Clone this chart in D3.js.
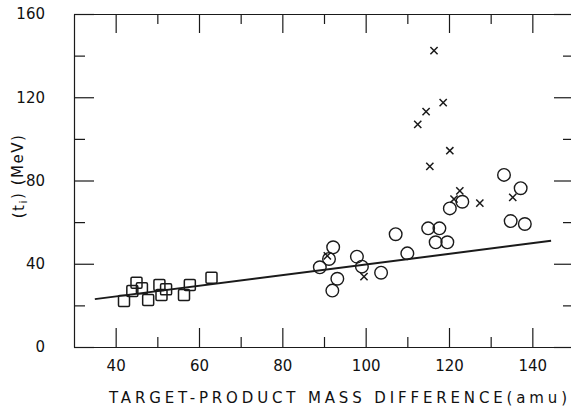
<!DOCTYPE html>
<html><head><meta charset="utf-8">
<script src="https://cdn.jsdelivr.net/npm/d3@7"></script>
<style>
html,body{margin:0;padding:0;background:#fff;}
svg{display:block;}
text{font-family:"DejaVu Sans","Liberation Sans",sans-serif;fill:#111;}
</style></head>
<body>
<svg id="c" width="571" height="416"></svg>
<script>
// ---- data ----
const squareX = [42, 44, 45, 46.3, 47.8, 50.5, 51, 52.1, 56.4, 57.8, 63];
const squareY = [22.1, 26.9, 30.9, 28.2, 22.6, 29.8, 25.0, 27.7, 25.0, 29.8, 33.3];
const circleX = [89.0, 91.2, 92.2, 93.2, 92.0, 97.9, 99.1, 103.7, 107.2, 110.0, 115.0, 117.7, 116.8, 119.6, 120.2, 123.2, 133.2, 137.2, 134.8, 138.2];
const circleY = [38.3, 42.3, 47.9, 32.8, 27.1, 43.4, 38.6, 35.7, 54.2, 45.0, 57.0, 57.0, 50.3, 50.3, 66.6, 69.8, 82.7, 76.3, 60.5, 59.1];
const crossX = [90.8, 99.6, 116.4, 118.6, 114.5, 112.5, 120.2, 115.4, 122.6, 121.2, 127.4, 135.3];
const crossY = [43.8, 33.8, 142.4, 117.4, 113.1, 107.0, 94.3, 86.8, 75.0, 71.1, 69.1, 71.9];
const fitX = [35, 144.5];
const fitY = [23, 51];
const xMajor = [40, 60, 80, 100, 120, 140];
const xMinor = [50, 70, 90, 110, 130];
const yMajor = [0, 40, 80, 120, 160];
const yMinor = [20, 60, 100, 140];
const xTitle = "TARGET-PRODUCT MASS DIFFERENCE(amu)";

// ---- layout ----
const L = 74, R = 574, T = 14, B = 347;
const svg = d3.select("#c");
const x = d3.scaleLinear().domain([30, 150]).range([L, R]);
const y = d3.scaleLinear().domain([0, 160]).range([B, T]);
const ink = "#1a1a1a";

function styleAxis(g){
  g.selectAll("path.domain").attr("stroke", ink).attr("stroke-width", 1.2);
  g.selectAll(".tick line").attr("stroke", ink).attr("stroke-width", 1.2);
  g.selectAll(".tick text").attr("fill", ink).style("font-size", "15px")
    .style("font-family", '"DejaVu Sans","Liberation Sans",sans-serif');
}

// bottom axis
svg.append("g").attr("transform", `translate(0,${B})`)
  .call(d3.axisBottom(x).tickValues(xMajor).tickSizeInner(-19).tickSizeOuter(0).tickPadding(27).tickFormat(d3.format("d")))
  .call(styleAxis).call(g => g.selectAll(".tick text").attr("dy", "-0.2em"));
svg.append("g").attr("transform", `translate(0,${B})`)
  .call(d3.axisBottom(x).tickValues(xMinor).tickSizeInner(-10).tickSizeOuter(0).tickFormat(""))
  .call(styleAxis).call(g => g.select("path.domain").remove());
// top axis
svg.append("g").attr("transform", `translate(0,${T})`)
  .call(d3.axisTop(x).tickValues(xMajor).tickSizeInner(-19).tickSizeOuter(0).tickFormat(""))
  .call(styleAxis);
svg.append("g").attr("transform", `translate(0,${T})`)
  .call(d3.axisTop(x).tickValues(xMinor).tickSizeInner(-10).tickSizeOuter(0).tickFormat(""))
  .call(styleAxis).call(g => g.select("path.domain").remove());
// left axis
svg.append("g").attr("transform", `translate(${L},0)`)
  .call(d3.axisLeft(y).tickValues(yMajor).tickSizeInner(-20).tickSizeOuter(0).tickPadding(29).tickFormat(d3.format("d")))
  .call(styleAxis);
svg.append("g").attr("transform", `translate(${L},0)`)
  .call(d3.axisLeft(y).tickValues(yMinor).tickSizeInner(-11).tickSizeOuter(0).tickFormat(""))
  .call(styleAxis).call(g => g.select("path.domain").remove());
// right axis
svg.append("g").attr("transform", `translate(${R},0)`)
  .call(d3.axisRight(y).tickValues(yMajor).tickSizeInner(-20).tickSizeOuter(0).tickFormat(""))
  .call(styleAxis);
svg.append("g").attr("transform", `translate(${R},0)`)
  .call(d3.axisRight(y).tickValues(yMinor).tickSizeInner(-11).tickSizeOuter(0).tickFormat(""))
  .call(styleAxis).call(g => g.select("path.domain").remove());

// fit line
svg.append("path")
  .datum(fitX.map((d, i) => [d, fitY[i]]))
  .attr("d", d3.line().x(d => x(d[0])).y(d => y(d[1])))
  .attr("fill", "none").attr("stroke", ink).attr("stroke-width", 2);

// squares
const s = 11;
svg.append("g").selectAll("rect")
  .data(squareX.map((d, i) => [d, squareY[i]]))
  .join("rect")
  .attr("x", d => x(d[0]) - s / 2).attr("y", d => y(d[1]) - s / 2)
  .attr("width", s).attr("height", s).attr("rx", 1.2)
  .attr("fill", "none").attr("stroke", ink).attr("stroke-width", 1.5);

// circles
svg.append("g").selectAll("circle")
  .data(circleX.map((d, i) => [d, circleY[i]]))
  .join("circle")
  .attr("cx", d => x(d[0])).attr("cy", d => y(d[1])).attr("r", 6.3)
  .attr("fill", "none").attr("stroke", ink).attr("stroke-width", 1.4);

// crosses
const c = 3.6;
svg.append("g").selectAll("path")
  .data(crossX.map((d, i) => [d, crossY[i]]))
  .join("path")
  .attr("d", d => {
    const px = x(d[0]), py = y(d[1]);
    return `M${px - c},${py - c}L${px + c},${py + c}M${px - c},${py + c}L${px + c},${py - c}`;
  })
  .attr("fill", "none").attr("stroke", ink).attr("stroke-width", 1.5);

// titles
svg.append("text")
  .attr("x", 338).attr("y", 403).attr("text-anchor", "middle")
  .attr("textLength", 458).attr("lengthAdjust", "spacing")
  .style("font-size", "15px").text(xTitle);

const yl = svg.append("text")
  .attr("transform", "translate(24,176) rotate(-90)")
  .attr("text-anchor", "middle")
  .style("font-size", "15px").style("letter-spacing", "1.5px");
yl.append("tspan").text("(t");
yl.append("tspan").attr("dy", "0.3em").style("font-size", "11px").text("i");
yl.append("tspan").attr("dy", "-0.3em").text(") (MeV)");
</script>
</body></html>
